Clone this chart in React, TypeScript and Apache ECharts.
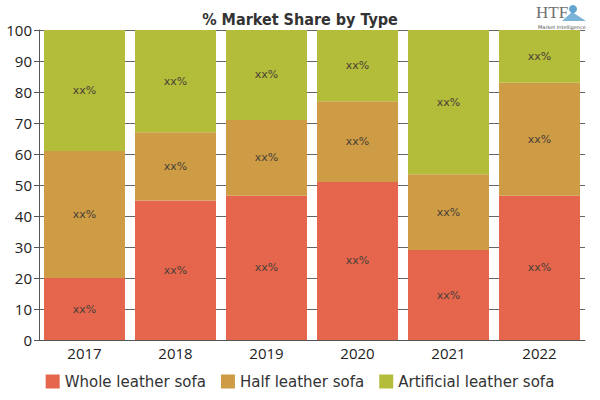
import React, { useEffect, useRef } from "react";
import * as echarts from "echarts";

const years = ["2017", "2018", "2019", "2020", "2021", "2022"];
const seriesNames = ["Whole leather sofa", "Half leather sofa", "Artificial leather sofa"];
const wholeLeather = [20, 45, 46.5, 51, 29, 46.5];
const halfLeather = [41, 22, 24.5, 26, 24.5, 36.5];
const artificialLeather = [39, 33, 29, 23, 46.5, 17];
const colors = ["#E5664D", "#CD9C45", "#B3BD3A"];
const yTicks = [0, 10, 20, 30, 40, 50, 60, 70, 80, 90, 100];

export default function App() {
  const ref = useRef<HTMLDivElement>(null);
  useEffect(() => {
    if (!ref.current) return;
    const chart = echarts.init(ref.current, null, { renderer: "svg" });
    const values = [wholeLeather, halfLeather, artificialLeather];
    chart.setOption({
      animation: false,
      backgroundColor: "#ffffff",
      title: {
        text: "% Market Share by Type",
        left: "center",
        top: 6,
        textStyle: {
          fontFamily: "DejaVu Sans Condensed",
          fontWeight: "bold",
          fontSize: 16,
          color: "#333333",
        },
      },
      graphic: [
        {
          type: "text",
          left: 536,
          top: 4,
          style: { text: "HTF", font: "17px 'Liberation Serif'", fill: "#707070" },
        },
        {
          type: "circle",
          shape: { cx: 573, cy: 9, r: 4 },
          style: { fill: "#3c8fc4", opacity: 0.8 },
        },
        {
          type: "polygon",
          shape: { points: [[562, 21], [572, 12], [586, 21]] },
          style: { fill: "#5aa0cf", opacity: 0.8 },
        },
        {
          type: "text",
          left: 538,
          top: 24,
          style: { text: "Market Intelligence", font: "5px 'DejaVu Sans'", fill: "#555" },
        },
      ],
      legend: {
        bottom: 6,
        left: "center",
        itemWidth: 14,
        itemHeight: 14,
        itemGap: 15,
        icon: "rect",
        textStyle: { fontFamily: "DejaVu Sans", fontSize: 15, color: "#333" },
        data: seriesNames,
      },
      grid: { left: 39, right: 15, top: 30, bottom: 60 },
      xAxis: {
        type: "category",
        data: years,
        axisLine: { lineStyle: { color: "#555" } },
        axisTick: { alignWithLabel: true, length: 4, lineStyle: { color: "#555" } },
        axisLabel: { fontFamily: "Open Sans", fontSize: 15, color: "#222", margin: 5 },
      },
      yAxis: {
        type: "value",
        min: yTicks[0],
        max: yTicks[yTicks.length - 1],
        interval: 10,
        axisLine: { show: true, lineStyle: { color: "#555" } },
        axisTick: { show: true, length: 5, lineStyle: { color: "#555" } },
        axisLabel: { fontFamily: "Open Sans", fontSize: 15, color: "#222", margin: 7 },
        splitLine: { show: true, lineStyle: { color: "#666", width: 1 } },
      },
      series: seriesNames.map((name, i) => ({
        name,
        type: "bar",
        stack: "total",
        barCategoryGap: "11%",
        data: values[i],
        itemStyle: { color: colors[i] },
        label: {
          show: true,
          position: "inside",
          formatter: "xx%",
          fontFamily: "DejaVu Sans",
          fontSize: 11,
          color: "#4a4038",
        },
      })),
    });
    return () => chart.dispose();
  }, []);
  return (
    <div
      ref={ref}
      style={{ position: "absolute", left: 0, top: 0, width: 600, height: 400 }}
    />
  );
}
